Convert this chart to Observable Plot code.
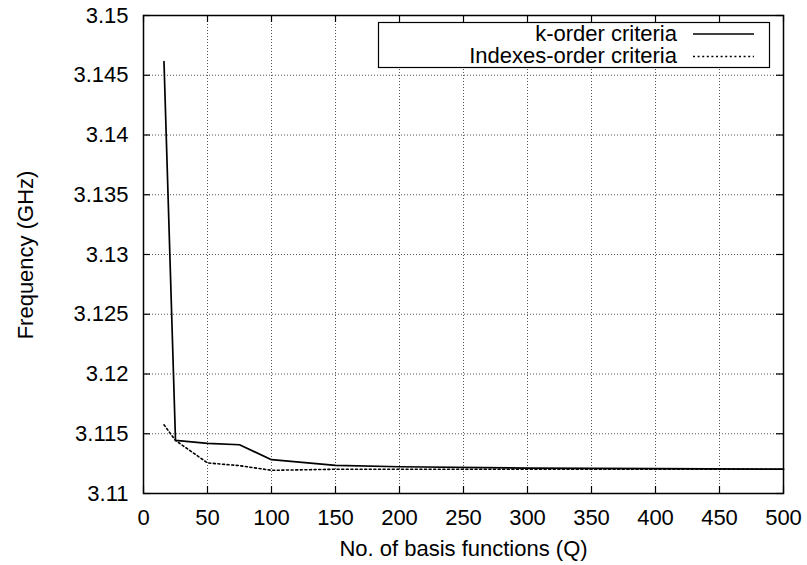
<!DOCTYPE html>
<html>
<head>
<meta charset="utf-8">
<script src="https://cdn.jsdelivr.net/npm/d3@7"></script>
<script src="https://cdn.jsdelivr.net/npm/@observablehq/plot@0.6"></script>
<style>
  html, body { margin: 0; padding: 0; background: #fff; }
  #chart svg { display: block; }
</style>
</head>
<body>
<div id="chart"></div>
<script>
// Data
const qValues = [16, 25, 50, 75, 100, 150, 200, 300, 400, 500];
const kOrder = [3.14615, 3.11444, 3.11419, 3.11408, 3.11283, 3.11236, 3.11224, 3.11213, 3.11208, 3.11204];
const indexesOrder = [3.11575, 3.11444, 3.11256, 3.11233, 3.11194, 3.11203, 3.11203, 3.11203, 3.11203, 3.11203];
const seriesNames = ["k-order criteria", "Indexes-order criteria"];

const xTicks = [0, 50, 100, 150, 200, 250, 300, 350, 400, 450, 500];
const yTicks = [3.11, 3.115, 3.12, 3.125, 3.13, 3.135, 3.14, 3.145, 3.15];
const yTickLabels = ["3.11", "3.115", "3.12", "3.125", "3.13", "3.135", "3.14", "3.145", "3.15"];
const xLabel = "No. of basis functions (Q)";
const yLabel = "Frequency (GHz)";

const kData = qValues.map((q, i) => ({q, f: kOrder[i]}));
const iData = qValues.map((q, i) => ({q, f: indexesOrder[i]}));

const W = 807, H = 565;
const mL = 143, mR = 24, mT = 15, mB = 72;
const innerW = W - mL - mR, innerH = H - mT - mB;
const tick = 7;
const dotted = "2,2.6";
const font = "'Liberation Sans', Arial, sans-serif";

const chart = Plot.plot({
  width: W, height: H,
  marginLeft: mL, marginRight: mR, marginTop: mT, marginBottom: mB,
  style: {fontFamily: font, fontSize: "22px", background: "#fff", color: "#000", overflow: "visible"},
  x: {domain: [0, 500], ticks: xTicks},
  y: {domain: [3.11, 3.15], ticks: yTicks},
  marks: [
    Plot.gridX(xTicks, {stroke: "#555", strokeOpacity: 1, strokeWidth: 1, strokeDasharray: "1,2"}),
    Plot.gridY(yTicks, {stroke: "#555", strokeOpacity: 1, strokeWidth: 1, strokeDasharray: "1,2"}),
    // inward ticks on all four sides
    Plot.tickX(xTicks, {x: d => d, insetTop: innerH - tick, stroke: "#000", strokeWidth: 1.2}),
    Plot.tickX(xTicks, {x: d => d, insetBottom: innerH - tick, stroke: "#000", strokeWidth: 1.2}),
    Plot.tickY(yTicks, {y: d => d, insetRight: innerW - tick, stroke: "#000", strokeWidth: 1.2}),
    Plot.tickY(yTicks, {y: d => d, insetLeft: innerW - tick, stroke: "#000", strokeWidth: 1.2}),
    Plot.axisX(xTicks, {tickSize: 0, tickPadding: 16, label: null, fontSize: 22}),
    Plot.axisY(yTicks, {tickSize: 0, tickPadding: 15, label: null, fontSize: 22, tickFormat: d => yTickLabels[yTicks.indexOf(d)]}),
    Plot.line(iData, {x: "q", y: "f", stroke: "#000", strokeWidth: 1.6, strokeDasharray: dotted}),
    Plot.line(kData, {x: "q", y: "f", stroke: "#000", strokeWidth: 1.7}),
    Plot.frame({stroke: "#000", strokeWidth: 1.5}),
    Plot.text([xLabel], {frameAnchor: "bottom", dy: 62, lineAnchor: "bottom", fontSize: 22})
  ]
});

document.getElementById("chart").appendChild(chart);

const svg = d3.select(chart);
// Y axis title (rotated)
svg.append("text")
  .attr("transform", `translate(17,${mT + innerH / 2 + 1}) rotate(-90)`)
  .attr("dy", "0.71em").attr("text-anchor", "middle")
  .attr("font-family", font).attr("font-size", 22).attr("fill", "#000")
  .text(yLabel);

// Legend inside the plot (top right), gnuplot style
const lg = svg.append("g").attr("font-family", font).attr("font-size", 22);
lg.append("rect").attr("x", 378.5).attr("y", 22.5).attr("width", 391).attr("height", 45)
  .attr("fill", "#fff").attr("stroke", "#000").attr("stroke-width", 1.2);
const rows = [{name: seriesNames[0], dash: null}, {name: seriesNames[1], dash: dotted}];
rows.forEach((r, i) => {
  const cy = 34 + i * 22.5;
  lg.append("text").attr("x", 677).attr("y", cy + 6.5).attr("text-anchor", "end").attr("fill", "#000").text(r.name);
  const ln = lg.append("line").attr("x1", 693).attr("x2", 754).attr("y1", cy).attr("y2", cy)
    .attr("stroke", "#000").attr("stroke-width", i === 0 ? 1.7 : 1.6);
  if (r.dash) ln.attr("stroke-dasharray", r.dash);
});
</script>
</body>
</html>
